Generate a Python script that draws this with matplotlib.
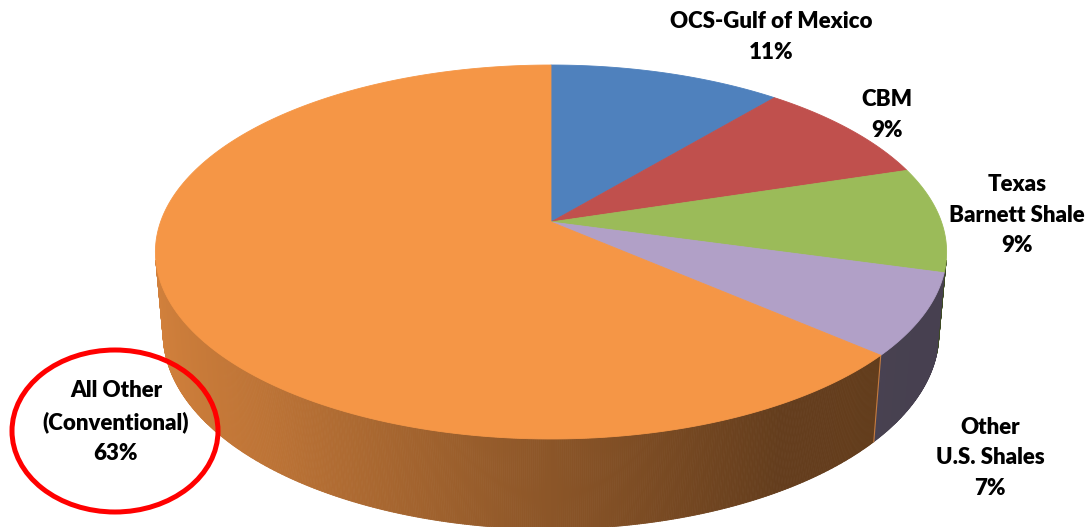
import numpy as np
import matplotlib
matplotlib.use("Agg")
import matplotlib.pyplot as plt
from matplotlib.patches import Polygon, Ellipse
from matplotlib.collections import PolyCollection

plt.rcParams["font.family"] = ["Lato", "DejaVu Sans"]

# slices, clockwise from 12 o'clock
names = ["OCS-Gulf of Mexico", "CBM", "Texas\nBarnett Shale",
         "Other\nU.S. Shales", "All Other\n(Conventional)"]
shares = [11, 9, 9, 7, 63]
top_colors = ["#4F81BD", "#C0504D", "#9BBB59", "#B1A0C7", "#F59646"]
label_pos = [(771, 37), (887, 115), (1017, 215), (990, 458), (116, 422)]

# camera for the tilted pie (pixel space)
CX, CY = 551, 222
FOCAL, DIST = 2192.0, 5.535
XSCALE = 0.986
ELEV = np.arcsin(0.46)
DEPTH = 0.232
S, C = np.sin(ELEV), np.cos(ELEV)


def project(x, y, z):
    yc = S * (y + DIST * C) + C * (z - DIST * S)
    zc = C * (y + DIST * C) - S * (z - DIST * S)
    return CX + XSCALE * FOCAL * x / zc, CY - FOCAL * yc / zc


def shade(nx):
    return np.interp(nx, [-1, -0.64, 0, 0.5, 1], [0.86, 0.77, 0.57, 0.41, 0.40])


frac = np.array(shares, dtype=float) / sum(shares)
bounds = np.concatenate([[0], np.cumsum(frac)]) * 2 * np.pi

fig = plt.figure(figsize=(10.92, 5.27), dpi=100)
ax = fig.add_axes([0, 0, 1, 1])
ax.set_xlim(0, 1092)
ax.set_ylim(527, 0)
ax.axis("off")

# side wall
theta = np.linspace(0, 2 * np.pi, 1441)
quads, cols = [], []
for a0, a1 in zip(theta[:-1], theta[1:]):
    am = (a0 + a1) / 2
    if 1 + DIST * C * np.cos(am) > 0:
        continue
    k = min(np.searchsorted(bounds, am, side="right") - 1, len(shares) - 1)
    rgb = np.array(matplotlib.colors.to_rgb(top_colors[k])) * shade(np.sin(am))
    pts = [project(np.sin(a0), np.cos(a0), 0), project(np.sin(a1), np.cos(a1), 0),
           project(np.sin(a1), np.cos(a1), -DEPTH), project(np.sin(a0), np.cos(a0), -DEPTH)]
    quads.append(pts)
    cols.append(rgb)
ax.add_collection(PolyCollection(quads, facecolors=cols, edgecolors=cols, linewidths=0.6))

# seams where slices meet on the front of the wall
for k, b in enumerate(bounds[1:-1]):
    if np.cos(b) < -0.4:
        xs, ys = zip(project(np.sin(b), np.cos(b), 0), project(np.sin(b), np.cos(b), -DEPTH))
        ax.plot(xs, ys, color=top_colors[k + 1], lw=0.8, alpha=0.7)

# top face
for k in range(len(shares)):
    a = np.linspace(bounds[k], bounds[k + 1], 200)
    px, py = project(np.sin(a), np.cos(a), 0 * a)
    cx0, cy0 = project(0, 0, 0)
    pts = np.column_stack([np.r_[cx0, px], np.r_[cy0, py]])
    ax.add_patch(Polygon(pts, closed=True, fc=top_colors[k], ec=top_colors[k], lw=0.6))

for name, v, (tx, ty) in zip(names, shares, label_pos):
    ax.text(tx, ty, f"{name}\n{v}%", ha="center", va="center", fontsize=16,
            fontweight="heavy", color="black", linespacing=1.55)

ax.add_patch(Ellipse((115, 431), 206, 162, fill=False, ec="#FF0000", lw=3.6))

fig.savefig("out.png", dpi=100)
